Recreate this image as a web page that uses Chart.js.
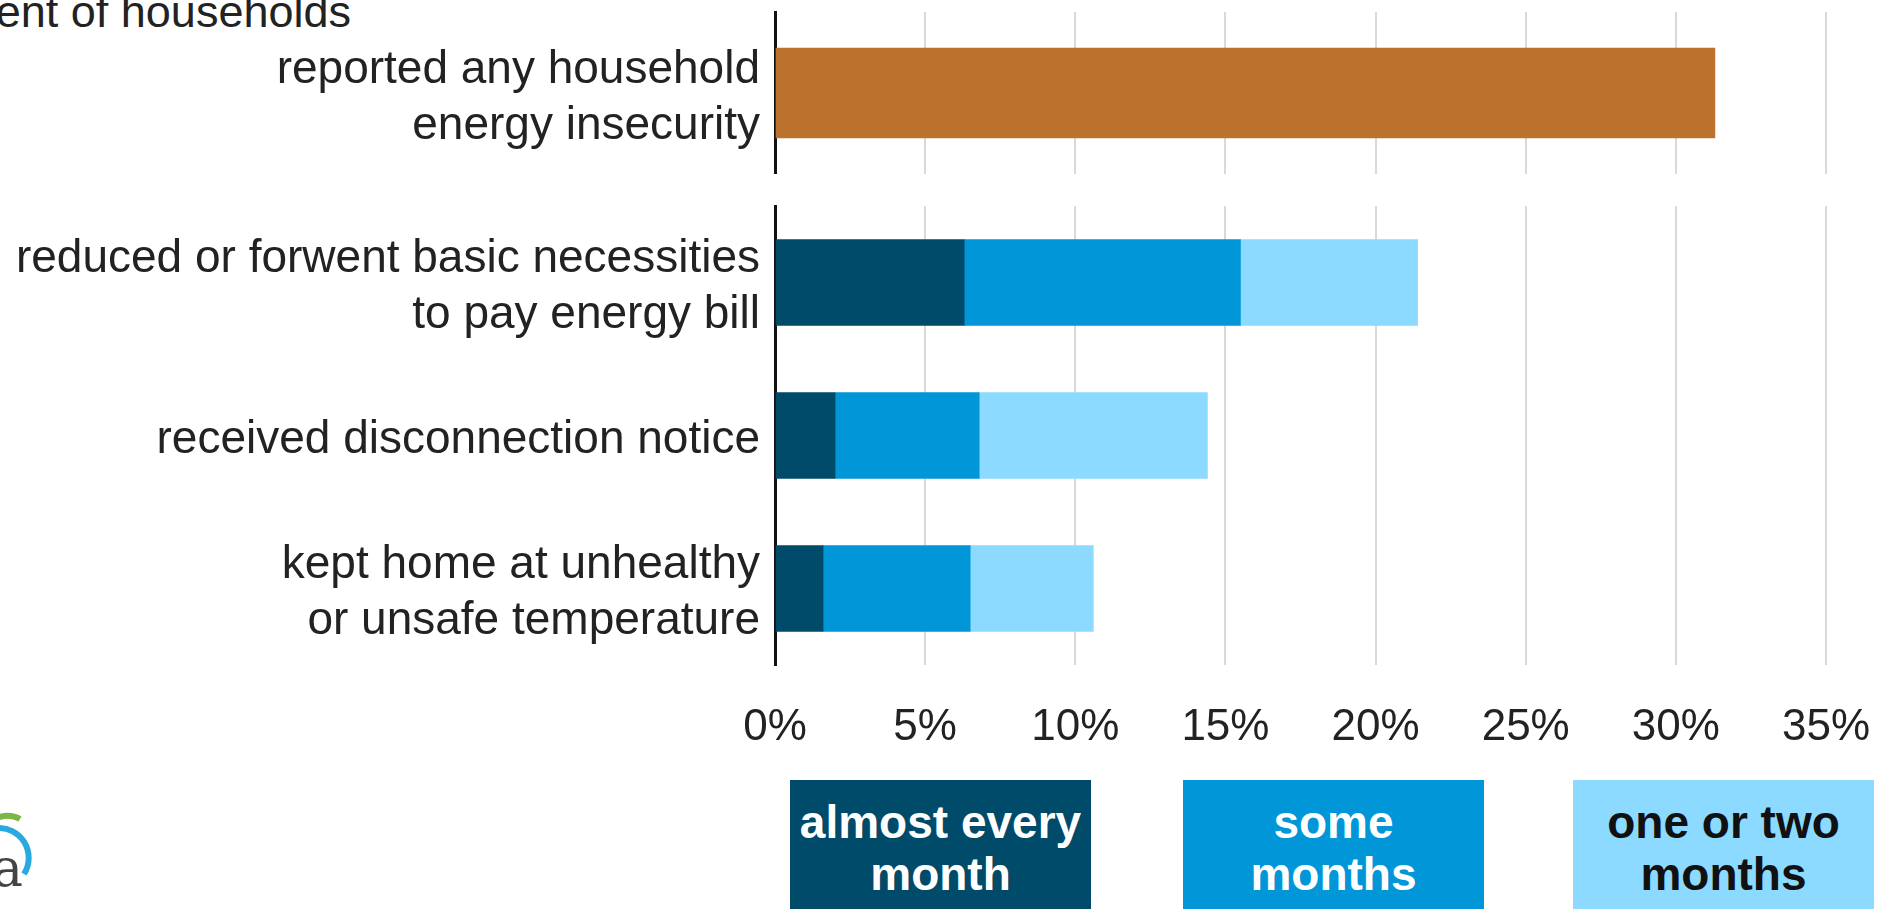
<!DOCTYPE html>
<html>
<head>
<meta charset="utf-8">
<script src="https://cdn.jsdelivr.net/npm/chart.js@4.4.1/dist/chart.umd.min.js"></script>
<style>
  html, body { margin: 0; padding: 0; background: #fff; overflow: hidden; }
  #page { position: relative; width: 1878px; height: 909px; overflow: hidden; font-family: "Liberation Sans", Arial, sans-serif; }
  canvas { position: absolute; left: 0; }
  #topChart { top: 0; }
  #bottomChart { top: 190px; }
  #title { position: absolute; right: 1527px; top: -11px; font-size: 45px; line-height: 45px; color: #222; white-space: nowrap; }
  .legend-box { position: absolute; top: 780px; width: 301px; height: 160px; box-sizing: border-box; padding-top: 16px;
    text-align: center; font-weight: bold; font-size: 46px; line-height: 52px; }
  #logo { position: absolute; left: 0; top: 800px; }
</style>
</head>
<body>
<div id="page">
  <div id="title">Percent of households</div>
  <canvas id="topChart" width="1878" height="174"></canvas>
  <canvas id="bottomChart" width="1878" height="580"></canvas>
  <div id="legend"></div>
  <svg id="logo" width="60" height="100">
    <path d="M -8 20 Q 8 12 20 19" stroke="#7ab648" stroke-width="6" fill="none"/>
    <path d="M -4 28 A 30 30 0 0 1 24 74" stroke="#29a9e0" stroke-width="6" fill="none"/>
    <text x="-8" y="86" font-family="DejaVu Serif" font-size="52" fill="#444">a</text>
  </svg>
</div>
<script>
// Data (percent of households)
const topCategories = [['reported any household', 'energy insecurity']];
const anyInsecurity = [31.3];

const categories = [
    ['reduced or forwent basic necessities', 'to pay energy bill'],
    'received disconnection notice',
    ['kept home at unhealthy', 'or unsafe temperature']
];
const almostEveryMonth = [6.3, 2.0, 1.6];
const someMonths = [9.2, 4.8, 4.9];
const oneOrTwoMonths = [5.9, 7.6, 4.1];

const xTicks = [0, 5, 10, 15, 20, 25, 30, 35];
const seriesNames = [['almost every', 'month'], ['some', 'months'], ['one or two', 'months']];
const seriesColors = ['#004a6a', '#0096d8', '#8cdaff'];
const legendText = ['#ffffff', '#ffffff', '#111111'];
const legendLeft = [790, 1183, 1573];

const AXIS_LEFT = 775;
const textColor = '#222';

function xScale(showTicks) {
    return {
        type: 'linear',
        stacked: true,
        min: 0,
        max: 35,
        afterBuildTicks: scale => { scale.ticks = xTicks.map(v => ({ value: v })); },
        grid: {
            drawTicks: false,
            lineWidth: 2,
            color: ctx => (ctx.tick && ctx.tick.value === 0) ? 'rgba(0,0,0,0)' : '#d9d9d9'
        },
        border: { display: false },
        ticks: {
            display: showTicks,
            padding: 36,
            color: textColor,
            font: { family: 'Liberation Sans', size: 44 },
            callback: v => v + '%'
        },
        afterFit: scale => {
            scale.height = showTicks ? 105 : 0;
            scale.paddingLeft = 0;
            scale.paddingRight = 0;
        }
    };
}

function yScale() {
    return {
        stacked: true,
        grid: { display: false, drawTicks: false },
        border: { display: true, color: '#111', width: 3 },
        ticks: {
            padding: 15,
            labelOffset: 5,
            color: textColor,
            font: { family: 'Liberation Sans', size: 46, lineHeight: 1.22 }
        },
        afterFit: scale => {
            scale.width = AXIS_LEFT;
            scale.paddingTop = 0;
            scale.paddingBottom = 0;
        }
    };
}

const commonOptions = (showTicks, padTop) => ({
    responsive: false,
    animation: false,
    indexAxis: 'y',
    layout: { padding: { left: 0, right: 52, top: padTop, bottom: 0 } },
    plugins: { legend: { display: false }, tooltip: { enabled: false } },
    scales: { x: xScale(showTicks), y: yScale() }
});

// Top: overall insecurity
new Chart(document.getElementById('topChart').getContext('2d'), {
    type: 'bar',
    data: {
        labels: topCategories,
        datasets: [{
            label: 'reported any household energy insecurity',
            data: anyInsecurity,
            backgroundColor: '#bb722c',
            barThickness: 90
        }]
    },
    options: commonOptions(false, 12)
});

// Bottom: frequency breakdown
const stacks = [almostEveryMonth, someMonths, oneOrTwoMonths];
new Chart(document.getElementById('bottomChart').getContext('2d'), {
    type: 'bar',
    data: {
        labels: categories,
        datasets: stacks.map((values, i) => ({
            label: seriesNames[i].join(' '),
            data: values,
            backgroundColor: seriesColors[i],
            barThickness: 86
        }))
    },
    options: commonOptions(true, 16)
});

// Legend boxes
const legendEl = document.getElementById('legend');
seriesNames.forEach((name, i) => {
    const box = document.createElement('div');
    box.className = 'legend-box';
    box.style.left = legendLeft[i] + 'px';
    box.style.background = seriesColors[i];
    box.style.color = legendText[i];
    box.innerHTML = name.join('<br>');
    legendEl.appendChild(box);
});
</script>
</body>
</html>
